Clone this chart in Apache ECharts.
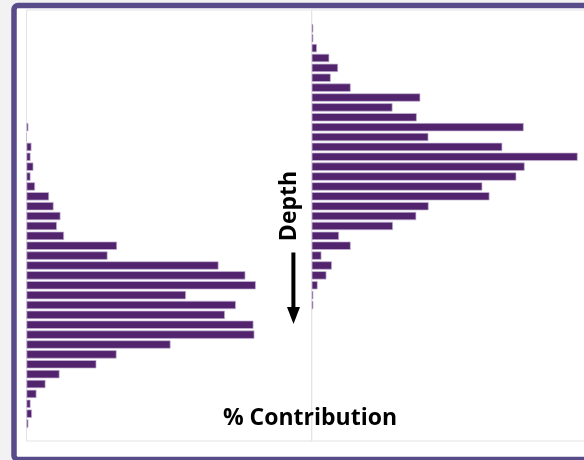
<!DOCTYPE html>
<html>
<head>
<meta charset="utf-8">
<script src="https://cdn.jsdelivr.net/npm/echarts@6/dist/echarts.min.js"></script>
<style>
html,body{margin:0;padding:0;background:#f2f2f2;}
#chart{width:584px;height:460px;}
</style>
</head>
<body>
<div id="chart"></div>
<script>
// Depth bins (top = shallow, bottom = deep)
const depthBins = ['1','2','3','4','5','6','7','8','9','10','11','12','13','14','15','16','17','18','19','20',
  '21','22','23','24','25','26','27','28','29','30','31','32','33','34','35','36','37','38','39','40','41'];

// % contribution per depth bin — left profile (starts deeper)
const leftProfile = [null,null,null,null,null,null,null,null,null,null,
  0.08,0,0.21,0.17,0.29,0.17,0.36,0.95,1.14,1.43,1.28,1.58,3.81,3.41,8.08,9.21,9.65,6.71,8.81,8.35,
  9.55,9.59,6.06,3.79,2.94,1.39,0.80,0.42,0.17,0.23,0.08];

// % contribution per depth bin — right profile (starts shallower)
const rightProfile = [0.07,0.07,0.22,0.74,1.11,0.80,1.64,4.57,3.40,4.42,8.92,4.91,8.02,11.19,8.96,8.61,7.18,7.48,
  4.92,4.40,3.42,1.15,1.64,0.41,0.85,0.62,0.25,0.07,0.07,
  null,null,null,null,null,null,null,null,null,null,null,null];

const xMax = 12;
const xLabel = '% Contribution';
const yLabel = 'Depth';

const chart = echarts.init(document.getElementById('chart'), null, {renderer:'canvas'});
const barColor = '#52246e';
const gridTop = 23.4, gridBottom = 31.5;
const panelW = 285.2, leftX = 26.5, midX = 311.7, W = 584;
// right panel is cut by the picture edge: keep the same px-per-% scale
const xMaxRight = xMax * (W - midX) / panelW;

function yAx(gi){
  return {type:'category', gridIndex:gi, data:depthBins, inverse:true,
    axisLine:{show:false}, axisTick:{show:false}, axisLabel:{show:false}, splitLine:{show:false}};
}
function xAx(gi, mx){
  return {type:'value', gridIndex:gi, min:0, max:mx,
    axisLine:{show:false}, axisTick:{show:false}, axisLabel:{show:false}, splitLine:{show:false}};
}
const barStyle = {color:barColor, borderColor:'#c6b4d6', borderWidth:0.7};
const fontFam = '"Open Sans", sans-serif';

chart.setOption({
  backgroundColor:'#f2f2f2',
  animation:false,
  grid:[
    {left:leftX, top:gridTop, width:panelW, bottom:gridBottom},
    {left:midX, top:gridTop, right:0, bottom:gridBottom}
  ],
  xAxis:[xAx(0, xMax), xAx(1, xMaxRight)],
  yAxis:[yAx(0), yAx(1)],
  series:[
    {type:'bar', xAxisIndex:0, yAxisIndex:0, data:leftProfile, barCategoryGap:'16%', itemStyle:barStyle, z:5},
    {type:'bar', xAxisIndex:1, yAxisIndex:1, data:rightProfile, barCategoryGap:'16%', itemStyle:barStyle, z:5}
  ],
  graphic:[
    {type:'rect', z:-20, shape:{x:14, y:5.5, width:640, height:454, r:4},
      style:{fill:'#ffffff', stroke:'#574b8a', lineWidth:5.5}},
    {type:'rect', z:-10, shape:{x:leftX, y:10, width:panelW, height:431},
      style:{fill:'none', stroke:'#e3e3e3', lineWidth:1}},
    {type:'rect', z:-10, shape:{x:midX, y:10, width:320, height:431},
      style:{fill:'none', stroke:'#e3e3e3', lineWidth:1}},
    {type:'text', z:50, x:310, y:418,
      style:{text:xLabel, fill:'#000', font:'bold 23px ' + fontFam, textAlign:'center', textVerticalAlign:'middle'}},
    {type:'text', z:50, x:289, y:206, rotation:Math.PI/2,
      style:{text:yLabel, fill:'#000', font:'bold 23px ' + fontFam, textAlign:'center', textVerticalAlign:'middle'}},
    {type:'line', z:50, shape:{x1:293.4, y1:252.5, x2:293.4, y2:310},
      style:{stroke:'#000', lineWidth:4}},
    {type:'polygon', z:50, shape:{points:[[287,307],[300,307],[293.5,324]]},
      style:{fill:'#000'}}
  ]
});
</script>
</body>
</html>
